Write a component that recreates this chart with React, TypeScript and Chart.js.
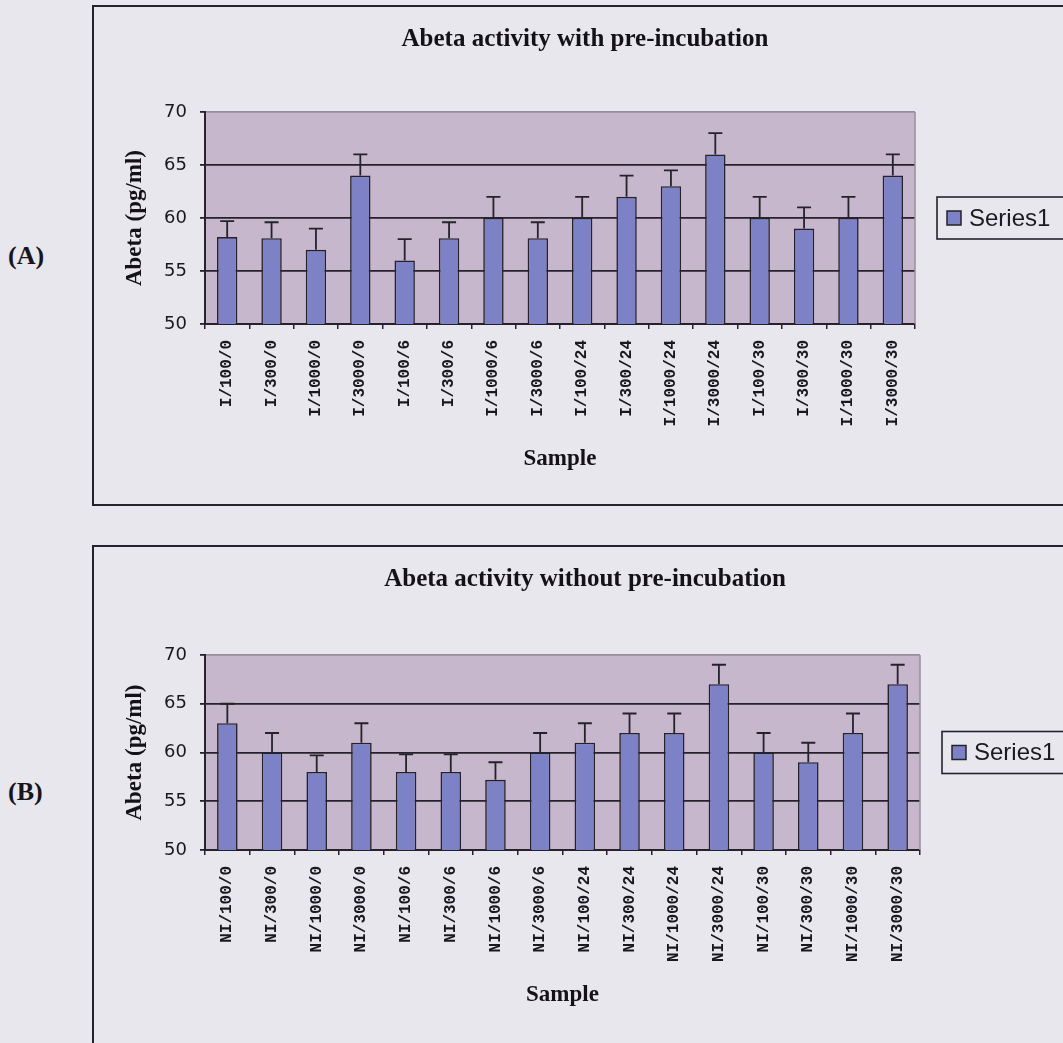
import React, { useEffect, useRef } from 'react';
import { Chart, registerables } from 'chart.js';

Chart.register(...registerables);

// ---------------- data ----------------
const samplesA = ['I/100/0', 'I/300/0', 'I/1000/0', 'I/3000/0', 'I/100/6', 'I/300/6', 'I/1000/6', 'I/3000/6', 'I/100/24', 'I/300/24', 'I/1000/24', 'I/3000/24', 'I/100/30', 'I/300/30', 'I/1000/30', 'I/3000/30'];
const valuesA = [58.2, 58.1, 57, 64, 56, 58.1, 60, 58.1, 60, 62, 63, 66, 60, 59, 60, 64];
const errorsA = [1.5, 1.5, 2, 2, 2, 1.5, 2, 1.5, 2, 2, 1.5, 2, 2, 2, 2, 2];

const samplesB = ['NI/100/0', 'NI/300/0', 'NI/1000/0', 'NI/3000/0', 'NI/100/6', 'NI/300/6', 'NI/1000/6', 'NI/3000/6', 'NI/100/24', 'NI/300/24', 'NI/1000/24', 'NI/3000/24', 'NI/100/30', 'NI/300/30', 'NI/1000/30', 'NI/3000/30'];
const valuesB = [63, 60, 58, 61, 58, 58, 57.2, 60, 61, 62, 62, 67, 60, 59, 62, 67];
const errorsB = [2, 2, 1.7, 2, 1.8, 1.8, 1.8, 2, 2, 2, 2, 2, 2, 2, 2, 2];

const yMin = 50;
const yMax = 70;
const yStep = 5;

const seriesLabel = 'Series1';
const titleA = 'Abeta activity with pre-incubation';
const titleB = 'Abeta activity without pre-incubation';
const yAxisTitle = 'Abeta (pg/ml)';
const xAxisTitle = 'Sample';
const panelLabelA = '(A)';
const panelLabelB = '(B)';

// ---------------- styles ----------------
const PAGE_BG = '#e8e7ee';
const PLOT_BG = '#c7b7cc';
const PLOT_EDGE = '#978f9c';
const BAR_FILL = '#7d81c6';
const DARK = '#26222b';
const SERIF = "'Liberation Serif', 'Times New Roman', serif";
const SANS = "'DejaVu Sans', Verdana, sans-serif";
const MONO = "'Liberation Mono', 'Courier New', monospace";

type Layout = {
  left: number;
  top: number;
  width: number;
  height: number;
  titlePadTop: number;
  titlePadBottom: number;
  yAxisWidth: number;
  xAxisHeight: number;
  rightSpace: number;
  xTitlePadBottom: number;
};

const layoutA: Layout = {
  left: 94, top: 7, width: 969, height: 497,
  titlePadTop: 18, titlePadBottom: 57,
  yAxisWidth: 98, xAxisHeight: 180, rightSpace: 148, xTitlePadBottom: 31,
};
const layoutB: Layout = {
  left: 94, top: 547, width: 969, height: 496,
  titlePadTop: 18, titlePadBottom: 60,
  yAxisWidth: 98, xAxisHeight: 193, rightSpace: 143, xTitlePadBottom: 34,
};

const plotBgPlugin = {
  id: 'plotBg',
  beforeDraw(chart: any) {
    const { ctx, chartArea: a } = chart;
    ctx.save();
    ctx.fillStyle = PLOT_BG;
    ctx.fillRect(a.left, a.top, a.right - a.left, a.bottom - a.top);
    ctx.restore();
  },
  beforeDatasetsDraw(chart: any) {
    const { ctx, chartArea: a } = chart;
    ctx.save();
    ctx.strokeStyle = PLOT_EDGE;
    ctx.lineWidth = 1.5;
    ctx.beginPath();
    ctx.moveTo(a.right, a.top);
    ctx.lineTo(a.right, a.bottom);
    ctx.stroke();
    ctx.restore();
  },
};

const errorBarPlugin = {
  id: 'errorBars',
  afterDatasetsDraw(chart: any) {
    const { ctx } = chart;
    const ds = chart.data.datasets[0];
    const errs: number[] = ds.errorBars || [];
    const meta = chart.getDatasetMeta(0);
    const ys = chart.scales.y;
    ctx.save();
    ctx.strokeStyle = DARK;
    ctx.lineWidth = 1.8;
    meta.data.forEach((bar: any, i: number) => {
      const v = ds.data[i] as number;
      const e = errs[i] || 0;
      const x = bar.x;
      const y0 = ys.getPixelForValue(v);
      const y1 = ys.getPixelForValue(v + e);
      ctx.beginPath();
      ctx.moveTo(x, y0);
      ctx.lineTo(x, y1);
      ctx.moveTo(x - 7, y1);
      ctx.lineTo(x + 7, y1);
      ctx.stroke();
    });
    ctx.restore();
  },
};

const boxLegendPlugin = {
  id: 'boxLegend',
  afterDraw(chart: any) {
    const { ctx, chartArea: a } = chart;
    const ds = chart.data.datasets[0];
    const x = a.right + 22;
    const h = 42;
    const y = (a.top + a.bottom) / 2 - h / 2;
    ctx.save();
    ctx.fillStyle = PAGE_BG;
    ctx.fillRect(x, y, 300, h);
    ctx.strokeStyle = DARK;
    ctx.lineWidth = 1.6;
    ctx.strokeRect(x, y, 300, h);
    ctx.fillStyle = ds.backgroundColor;
    ctx.fillRect(x + 10, y + h / 2 - 7, 14, 14);
    ctx.lineWidth = 1.5;
    ctx.strokeRect(x + 10, y + h / 2 - 7, 14, 14);
    ctx.fillStyle = '#1c1a20';
    ctx.font = "24px 'Liberation Sans', Arial, sans-serif";
    ctx.textBaseline = 'middle';
    ctx.textAlign = 'left';
    ctx.fillText(ds.label, x + 32, y + h / 2 + 1);
    ctx.restore();
  },
};

function BarPanel(props: { labels: string[]; values: number[]; errors: number[]; title: string; layout: Layout }) {
  const ref = useRef<HTMLCanvasElement | null>(null);
  const { labels, values, errors, title, layout } = props;

  useEffect(() => {
    if (!ref.current) return;
    const chart = new Chart(ref.current, {
      type: 'bar',
      data: {
        labels,
        datasets: [
          {
            label: seriesLabel,
            data: values,
            errorBars: errors,
            backgroundColor: BAR_FILL,
            borderColor: DARK,
            borderWidth: 1.6,
            barPercentage: 0.46,
            categoryPercentage: 1.0,
            yAxisID: 'y',
          } as any,
        ],
      },
      options: {
        animation: false,
        responsive: false,
        devicePixelRatio: 1,
        layout: { padding: { left: 13, right: 0, top: 0, bottom: 0 } },
        plugins: {
          legend: { display: false },
          tooltip: { enabled: false },
          title: {
            display: true,
            text: title,
            color: '#141216',
            font: { family: SERIF, size: 25, weight: 'bold' },
            padding: { top: layout.titlePadTop, bottom: layout.titlePadBottom },
          },
        },
        scales: {
          x: {
            offset: true,
            grid: { display: true, drawOnChartArea: false, drawTicks: true, tickLength: 5, color: DARK, lineWidth: 1.5, offset: true },
            border: { display: true, color: DARK, width: 2 },
            ticks: {
              autoSkip: false,
              minRotation: 90,
              maxRotation: 90,
              padding: 11,
              color: '#1a181e',
              font: { family: MONO, size: 16, weight: 'bold' },
            },
            title: {
              display: true,
              text: xAxisTitle,
              color: '#141216',
              font: { family: SERIF, size: 23, weight: 'bold' },
              padding: { top: 0, bottom: layout.xTitlePadBottom },
            },
            afterFit: (s: any) => { s.height = layout.xAxisHeight; },
          },
          y: {
            position: 'left',
            min: yMin,
            max: yMax,
            grid: {
              color: (c: any) => (c.tick && c.tick.value === yMax ? PLOT_EDGE : DARK),
              tickColor: DARK,
              lineWidth: 1.8,
              tickLength: 5,
            },
            border: { display: true, color: DARK, width: 2 },
            ticks: {
              stepSize: yStep,
              padding: 13,
              color: '#1a181e',
              font: { family: SANS, size: 18 },
            },
            title: {
              display: true,
              text: yAxisTitle,
              color: '#141216',
              font: { family: SERIF, size: 23, weight: 'bold' },
              padding: { top: 14, bottom: 0 },
            },
            afterFit: (s: any) => { s.width = layout.yAxisWidth; },
          },
          yRight: {
            position: 'right',
            display: true,
            grid: { display: false },
            border: { display: false },
            ticks: { display: false },
            afterFit: (s: any) => { s.width = layout.rightSpace; },
          },
        },
      } as any,
      plugins: [plotBgPlugin, errorBarPlugin, boxLegendPlugin],
    });
    return () => chart.destroy();
  }, [labels, values, errors, title, layout]);

  return (
    <canvas
      ref={ref}
      width={layout.width}
      height={layout.height}
      style={{ position: 'absolute', left: layout.left, top: layout.top, width: layout.width, height: layout.height }}
    />
  );
}

export default function App() {
  const labelStyle: React.CSSProperties = {
    position: 'absolute',
    left: 8,
    fontFamily: SERIF,
    fontWeight: 'bold',
    fontSize: 26,
    lineHeight: '30px',
    color: '#17151a',
  };
  return (
    <div style={{ position: 'fixed', left: 0, top: 0, width: 1063, height: 1043, background: PAGE_BG, overflow: 'hidden' }}>
      <div style={{ position: 'absolute', left: 92, top: 5, width: 1100, height: 501, border: `2px solid ${DARK}`, boxSizing: 'border-box' }} />
      <div style={{ position: 'absolute', left: 92, top: 545, width: 1100, height: 600, border: `2px solid ${DARK}`, boxSizing: 'border-box' }} />
      <div style={{ ...labelStyle, top: 241 }}>{panelLabelA}</div>
      <div style={{ ...labelStyle, top: 777 }}>{panelLabelB}</div>
      <BarPanel labels={samplesA} values={valuesA} errors={errorsA} title={titleA} layout={layoutA} />
      <BarPanel labels={samplesB} values={valuesB} errors={errorsB} title={titleB} layout={layoutB} />
    </div>
  );
}
